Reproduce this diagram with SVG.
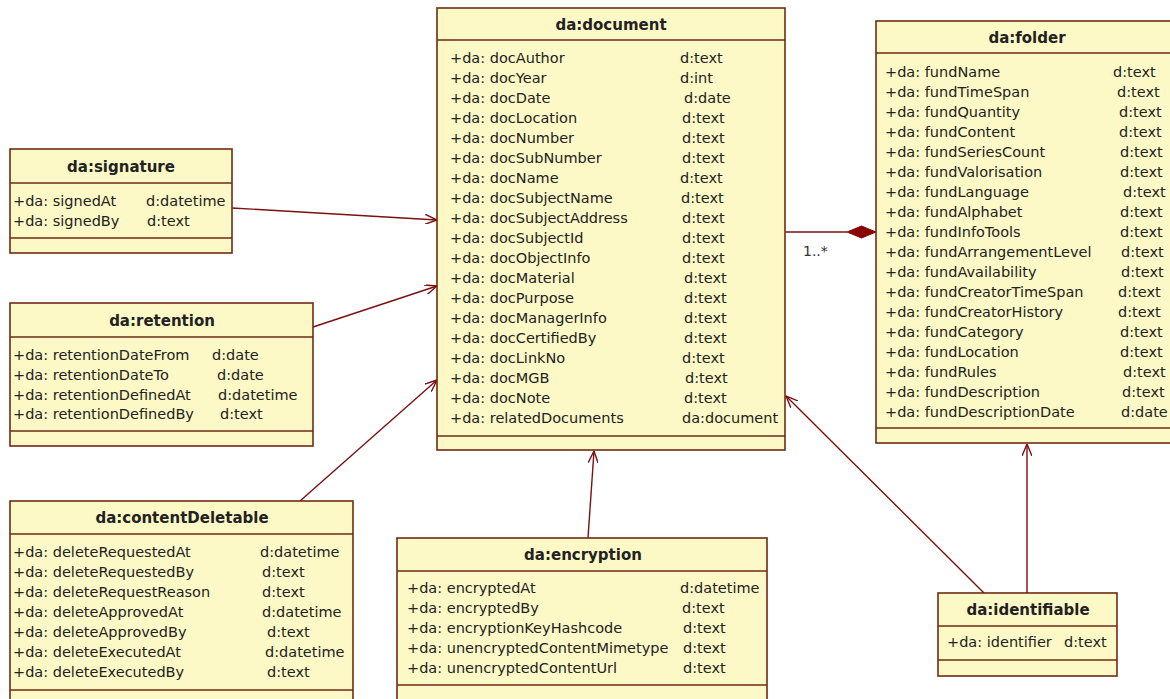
<svg xmlns="http://www.w3.org/2000/svg" width="1170" height="699" viewBox="0 0 1170 699">
  <style>
    .box { fill: #fdf9c6; stroke: #6e2a14; stroke-width: 1.6; }
    .sep { stroke: #6e2a14; stroke-width: 1.6; }
    .title { font-family: "DejaVu Sans", Verdana, sans-serif; font-size: 15px; font-weight: bold; fill: #222; text-anchor: middle; }
    .attr { font-family: "DejaVu Sans", Verdana, sans-serif; font-size: 14.5px; fill: #222; }
    .conn { fill: none; stroke: #7a1010; stroke-width: 1.4; }
    .mult { font-family: "DejaVu Sans", Verdana, sans-serif; font-size: 14px; fill: #333; }
  </style>
  <defs>
    <marker id="open" viewBox="0 0 12 10" refX="12" refY="5" markerWidth="12" markerHeight="10" markerUnits="userSpaceOnUse" orient="auto">
      <path d="M0,0 L12,5 L0,10" fill="none" stroke="#7a1010" stroke-width="1.4"/>
    </marker>
  </defs>
  <rect width="1170" height="699" fill="#ffffff"/>

  <!-- connectors -->
  <g id="connectors">
    <line class="conn" x1="232" y1="208" x2="437" y2="220" marker-end="url(#open)"/>
    <line class="conn" x1="313" y1="327" x2="437" y2="286" marker-end="url(#open)"/>
    <line class="conn" x1="300" y1="501" x2="437" y2="380" marker-end="url(#open)"/>
    <line class="conn" x1="588" y1="538" x2="594" y2="451" marker-end="url(#open)"/>
    <line class="conn" x1="984" y1="593" x2="786" y2="396" marker-end="url(#open)"/>
    <line class="conn" x1="1027" y1="593" x2="1027" y2="444" marker-end="url(#open)"/>
    <line class="conn" x1="785" y1="232" x2="847" y2="232"/>
    <polygon points="847,232 861.5,226 876,232 861.5,238" fill="#8b0000" stroke="#7a1010" stroke-width="1"/>
    <text class="mult" x="803" y="256">1..*</text>
  </g>

  <!-- da:document -->
  <g id="document">
    <rect class="box" x="437" y="8" width="348" height="442"/>
    <line class="sep" x1="437" y1="40" x2="785" y2="40"/>
    <line class="sep" x1="437" y1="436" x2="785" y2="436"/>
    <text class="title" x="611" y="30">da:document</text>
    <g class="attr">
      <text x="450" y="63">+da: docAuthor</text><text x="680" y="63">d:text</text>
      <text x="450" y="83">+da: docYear</text><text x="680" y="83">d:int</text>
      <text x="450" y="103">+da: docDate</text><text x="684" y="103">d:date</text>
      <text x="450" y="123">+da: docLocation</text><text x="682" y="123">d:text</text>
      <text x="450" y="143">+da: docNumber</text><text x="682" y="143">d:text</text>
      <text x="450" y="163">+da: docSubNumber</text><text x="682" y="163">d:text</text>
      <text x="450" y="183">+da: docName</text><text x="680" y="183">d:text</text>
      <text x="450" y="203">+da: docSubjectName</text><text x="681" y="203">d:text</text>
      <text x="450" y="223">+da: docSubjectAddress</text><text x="682" y="223">d:text</text>
      <text x="450" y="243">+da: docSubjectId</text><text x="682" y="243">d:text</text>
      <text x="450" y="263">+da: docObjectInfo</text><text x="682" y="263">d:text</text>
      <text x="450" y="283">+da: docMaterial</text><text x="684" y="283">d:text</text>
      <text x="450" y="303">+da: docPurpose</text><text x="684" y="303">d:text</text>
      <text x="450" y="323">+da: docManagerInfo</text><text x="684" y="323">d:text</text>
      <text x="450" y="343">+da: docCertifiedBy</text><text x="684" y="343">d:text</text>
      <text x="450" y="363">+da: docLinkNo</text><text x="682" y="363">d:text</text>
      <text x="450" y="383">+da: docMGB</text><text x="685" y="383">d:text</text>
      <text x="450" y="403">+da: docNote</text><text x="684" y="403">d:text</text>
      <text x="450" y="423">+da: relatedDocuments</text><text x="682" y="423">da:document</text>
    </g>
  </g>

  <!-- da:folder -->
  <g id="folder">
    <rect class="box" x="876" y="21" width="302" height="422"/>
    <line class="sep" x1="876" y1="53" x2="1178" y2="53"/>
    <line class="sep" x1="876" y1="428" x2="1178" y2="428"/>
    <text class="title" x="1027" y="43">da:folder</text>
    <g class="attr">
      <text x="885" y="77">+da: fundName</text><text x="1113" y="77">d:text</text>
      <text x="885" y="97">+da: fundTimeSpan</text><text x="1117" y="97">d:text</text>
      <text x="885" y="117">+da: fundQuantity</text><text x="1119" y="117">d:text</text>
      <text x="885" y="137">+da: fundContent</text><text x="1119" y="137">d:text</text>
      <text x="885" y="157">+da: fundSeriesCount</text><text x="1120" y="157">d:text</text>
      <text x="885" y="177">+da: fundValorisation</text><text x="1120" y="177">d:text</text>
      <text x="885" y="197">+da: fundLanguage</text><text x="1123" y="197">d:text</text>
      <text x="885" y="217">+da: fundAlphabet</text><text x="1120" y="217">d:text</text>
      <text x="885" y="237">+da: fundInfoTools</text><text x="1120" y="237">d:text</text>
      <text x="885" y="257">+da: fundArrangementLevel</text><text x="1121" y="257">d:text</text>
      <text x="885" y="277">+da: fundAvailability</text><text x="1121" y="277">d:text</text>
      <text x="885" y="297">+da: fundCreatorTimeSpan</text><text x="1118" y="297">d:text</text>
      <text x="885" y="317">+da: fundCreatorHistory</text><text x="1118" y="317">d:text</text>
      <text x="885" y="337">+da: fundCategory</text><text x="1120" y="337">d:text</text>
      <text x="885" y="357">+da: fundLocation</text><text x="1120" y="357">d:text</text>
      <text x="885" y="377">+da: fundRules</text><text x="1123" y="377">d:text</text>
      <text x="885" y="397">+da: fundDescription</text><text x="1122" y="397">d:text</text>
      <text x="885" y="417">+da: fundDescriptionDate</text><text x="1121" y="417">d:date</text>
    </g>
  </g>

  <!-- da:signature -->
  <g id="signature">
    <rect class="box" x="10" y="149" width="222" height="104"/>
    <line class="sep" x1="10" y1="183" x2="232" y2="183"/>
    <line class="sep" x1="10" y1="238" x2="232" y2="238"/>
    <text class="title" x="121" y="172">da:signature</text>
    <g class="attr">
      <text x="13" y="206">+da: signedAt</text><text x="146" y="206">d:datetime</text>
      <text x="13" y="226">+da: signedBy</text><text x="147" y="226">d:text</text>
    </g>
  </g>

  <!-- da:retention -->
  <g id="retention">
    <rect class="box" x="10" y="303" width="303" height="143"/>
    <line class="sep" x1="10" y1="337" x2="313" y2="337"/>
    <line class="sep" x1="10" y1="431" x2="313" y2="431"/>
    <text class="title" x="162" y="326">da:retention</text>
    <g class="attr">
      <text x="13" y="360">+da: retentionDateFrom</text><text x="212" y="360">d:date</text>
      <text x="13" y="380">+da: retentionDateTo</text><text x="217" y="380">d:date</text>
      <text x="13" y="400">+da: retentionDefinedAt</text><text x="218" y="400">d:datetime</text>
      <text x="13" y="419">+da: retentionDefinedBy</text><text x="220" y="419">d:text</text>
    </g>
  </g>

  <!-- da:contentDeletable -->
  <g id="contentDeletable">
    <rect class="box" x="10" y="501" width="343" height="210"/>
    <line class="sep" x1="10" y1="534" x2="353" y2="534"/>
    <line class="sep" x1="10" y1="690" x2="353" y2="690"/>
    <text class="title" x="182" y="523">da:contentDeletable</text>
    <g class="attr">
      <text x="13" y="557">+da: deleteRequestedAt</text><text x="260" y="557">d:datetime</text>
      <text x="13" y="577">+da: deleteRequestedBy</text><text x="262" y="577">d:text</text>
      <text x="13" y="597">+da: deleteRequestReason</text><text x="262" y="597">d:text</text>
      <text x="13" y="617">+da: deleteApprovedAt</text><text x="262" y="617">d:datetime</text>
      <text x="13" y="637">+da: deleteApprovedBy</text><text x="267" y="637">d:text</text>
      <text x="13" y="657">+da: deleteExecutedAt</text><text x="265" y="657">d:datetime</text>
      <text x="13" y="677">+da: deleteExecutedBy</text><text x="267" y="677">d:text</text>
    </g>
  </g>

  <!-- da:encryption -->
  <g id="encryption">
    <rect class="box" x="397" y="538" width="370" height="173"/>
    <line class="sep" x1="397" y1="571" x2="767" y2="571"/>
    <line class="sep" x1="397" y1="685" x2="767" y2="685"/>
    <text class="title" x="583" y="560">da:encryption</text>
    <g class="attr">
      <text x="407" y="593">+da: encryptedAt</text><text x="680" y="593">d:datetime</text>
      <text x="407" y="613">+da: encryptedBy</text><text x="682" y="613">d:text</text>
      <text x="407" y="633">+da: encryptionKeyHashcode</text><text x="683" y="633">d:text</text>
      <text x="407" y="653">+da: unencryptedContentMimetype</text><text x="683" y="653">d:text</text>
      <text x="407" y="673">+da: unencryptedContentUrl</text><text x="683" y="673">d:text</text>
    </g>
  </g>

  <!-- da:identifiable -->
  <g id="identifiable">
    <rect class="box" x="938" y="593" width="179" height="83"/>
    <line class="sep" x1="938" y1="626" x2="1117" y2="626"/>
    <line class="sep" x1="938" y1="660" x2="1117" y2="660"/>
    <text class="title" x="1028" y="615">da:identifiable</text>
    <g class="attr">
      <text x="947" y="647">+da: identifier</text><text x="1064" y="647">d:text</text>
    </g>
  </g>
</svg>
